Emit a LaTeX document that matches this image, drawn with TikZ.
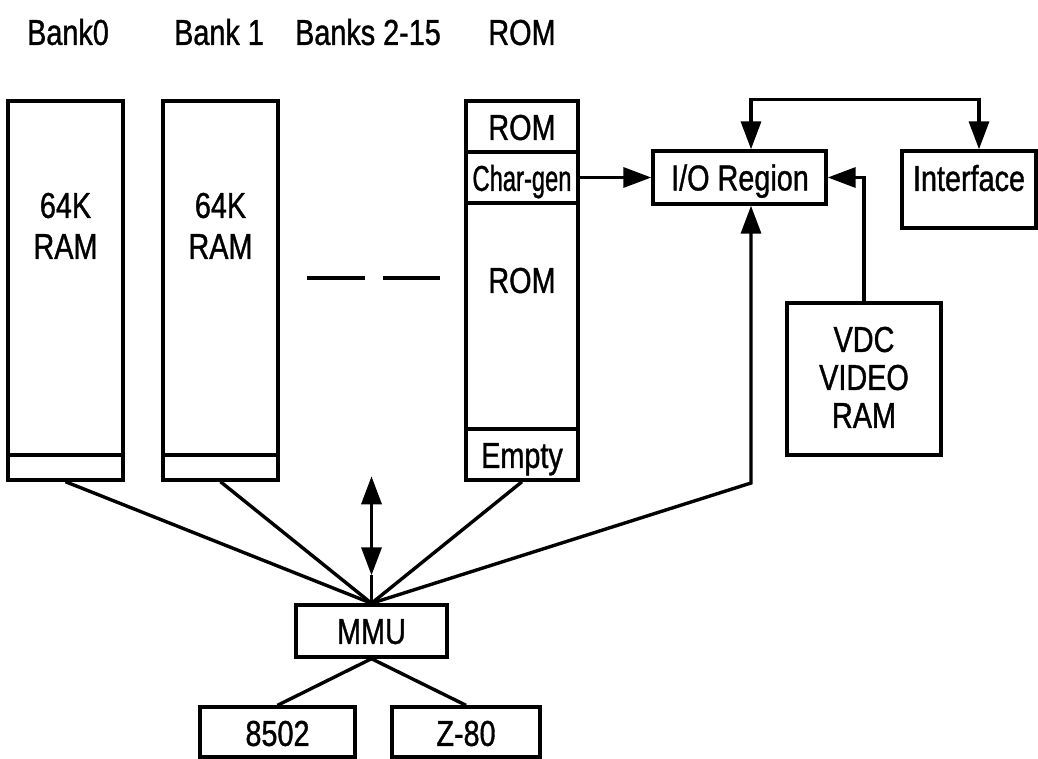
\documentclass[tikz,border=0pt]{standalone}
\usepackage{fontspec}
\setmainfont[FakeStretch=0.8,FakeBold=1]{Liberation Sans}
\newfontfamily\narrowfont[FakeStretch=0.66,FakeBold=1]{Liberation Sans}
\usetikzlibrary{arrows.meta}
\begin{document}
\begin{tikzpicture}[x=1pt,y=-1pt,
  box/.style={draw,line width=3.4pt,inner sep=0pt},
  lbl/.style={inner sep=0pt,text height=25.8pt,text depth=0pt,
    font=\fontsize{36}{41}\selectfont},
  conn/.style={line width=3.4pt},
  tip/.tip={Triangle[length=28pt,width=20pt]},
  arr/.style={line width=3.4pt,-tip},
  darr/.style={line width=3.4pt,tip-tip}]
\useasboundingbox (0,0) rectangle (1038,759);
% header labels
\node[lbl] (h0) at (68,32) {Bank0};
\node[lbl] (h1) at (219,32) {Bank 1};
\node[lbl] (h2) at (368,32) {Banks 2-15};
\node[lbl] (h3) at (522,32) {ROM};
% bank 0
\node[box,minimum width=115pt,minimum height=354pt] (bank0) at (65.5,278) {};
\node[box,minimum width=115pt,minimum height=25pt] (bank0s) at (65.5,467.5) {};
\node[lbl] (t0a) at (65.5,205) {64K};
\node[lbl] (t0b) at (65.5,246) {RAM};
% bank 1
\node[box,minimum width=115pt,minimum height=354pt] (bank1) at (220.5,278) {};
\node[box,minimum width=115pt,minimum height=25pt] (bank1s) at (220.5,467.5) {};
\node[lbl] (t1a) at (220.5,205) {64K};
\node[lbl] (t1b) at (220.5,246) {RAM};
% dashes
\draw[conn] (307,278) -- (365,278);
\draw[conn] (383,278) -- (440,278);
% ROM column
\node[box,minimum width=112pt,minimum height=51pt] (romtop) at (522,126.5) {};
\node[box,minimum width=112pt,minimum height=51pt] (chargen) at (522,177.5) {};
\node[box,minimum width=112pt,minimum height=226pt] (rommain) at (522,316) {};
\node[box,minimum width=112pt,minimum height=51pt] (empty) at (522,454.5) {};
\node[lbl] (trt) at (522,127) {ROM};
\node[lbl] (tcg) at (522,178) {\narrowfont Char-gen};
\node[lbl] (trm) at (522,280) {ROM};
\node[lbl] (tem) at (522,455) {Empty};
% I/O, interface, VDC
\node[box,minimum width=173pt,minimum height=53pt] (io) at (739.5,177.5) {};
\node[lbl] (tio) at (740,177.5) {I/O Region};
\node[box,minimum width=134pt,minimum height=77pt] (iface) at (969,189.5) {};
\node[lbl] (tif) at (969,178) {Interface};
\node[box,minimum width=154pt,minimum height=152pt] (vdc) at (864,379) {};
\node[lbl] (tvdc1) at (864,339) {VDC};
\node[lbl] (tvdc2) at (864,377) {VIDEO};
\node[lbl] (tvdc3) at (864,415) {RAM};
% MMU and CPUs
\node[box,minimum width=151pt,minimum height=52pt] (mmu) at (371.5,631) {};
\node[lbl] (tmmu) at (371.5,631) {MMU};
\node[box,minimum width=155pt,minimum height=50pt] (cpu1) at (277.5,732) {};
\node[lbl] (tcpu1) at (277.5,733) {8502};
\node[box,minimum width=148pt,minimum height=50pt] (cpu2) at (466,732) {};
\node[lbl] (tcpu2) at (466,733) {Z-80};
% connectors
\draw[conn] (bank0s.south) -- (mmu.north);
\draw[conn] (bank1s.south) -- (mmu.north);
\draw[conn] (empty.south) -- (mmu.north);
\coordinate (iobend) at (751,483);
\draw[arr] (mmu.north) -- (iobend) -- (io.south -| iobend);
\coordinate (mid) at ([yshift=28pt]mmu.north);
\coordinate (up) at ([yshift=127pt]mmu.north);
\draw[conn] (mmu.north) -- (mid);
\draw[darr] (mid) -- (up);
\draw[conn] (mmu.south) -- (cpu1.north);
\draw[conn] (mmu.south) -- (cpu2.north);
\draw[arr] (chargen.east) -- (io.west);
\draw[arr] (vdc.north) -- (vdc.north |- io.east) -- (io.east);
\draw[darr] ([xshift=11.5pt]io.north) |- ([xshift=10pt,yshift=50pt]iface.north) -- ([xshift=10pt]iface.north);
\end{tikzpicture}
\end{document}
